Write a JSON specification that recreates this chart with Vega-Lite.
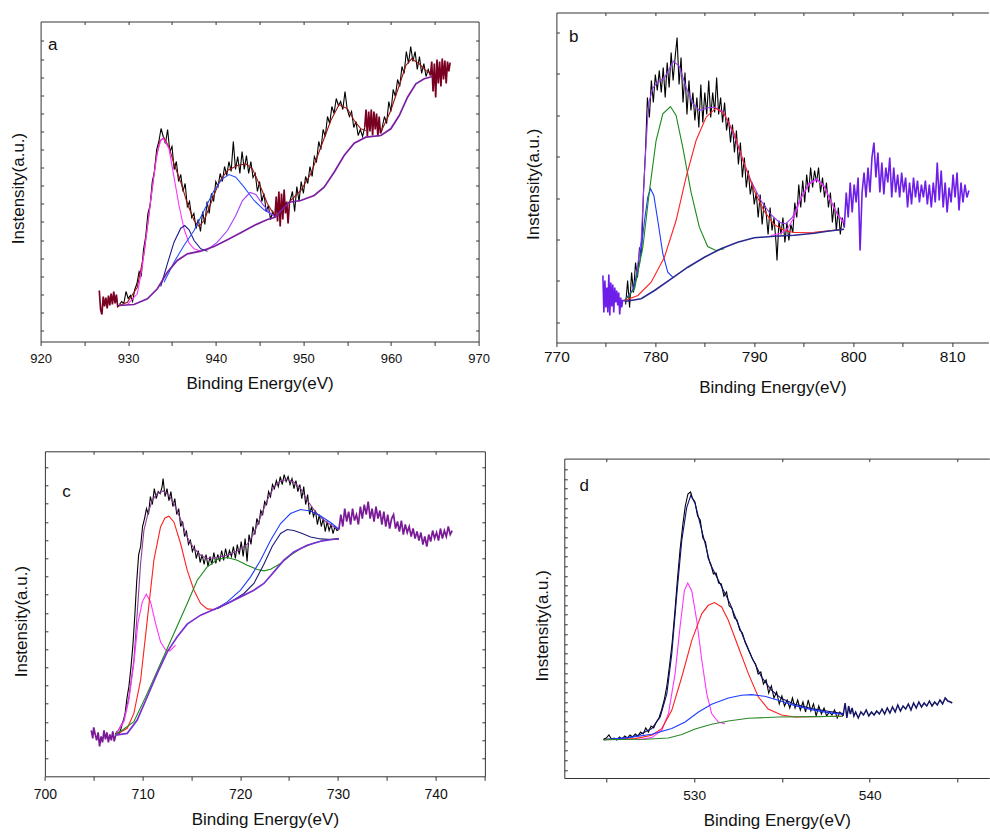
{
"$schema":"https://vega.github.io/schema/vega-lite/v6.json",
"padding":{"left":9.6,"top":11.5,"right":0,"bottom":0},
"config":{"view":{"stroke":null},"font":"Liberation Sans","axis":{"grid":false,"domainColor":"#333333","domainWidth":1,"tickColor":"#333333","tickWidth":1,"labelFont":"Liberation Sans","labelColor":"#111111","labelFlush":false,"labelOverlap":false,"titleFont":"Liberation Sans","titleFontSize":17,"titleFontWeight":"normal","titleColor":"#111111"}},
"datasets":{
"a":[
{"g":"r1","x":929,"y":37},{"g":"r1","x":929.25,"y":40},{"g":"r1","x":929.5,"y":38},{"g":"r1","x":929.75,"y":50},{"g":"r1","x":930,"y":43},{"g":"r1","x":930.25,"y":46},{"g":"r1","x":930.5,"y":40},{"g":"r1","x":930.75,"y":52},{"g":"r1","x":931,"y":58},{"g":"r1","x":931.25,"y":70},{"g":"r1","x":931.5,"y":66},{"g":"r1","x":931.75,"y":92},{"g":"r1","x":932,"y":105},{"g":"r1","x":932.25,"y":128},{"g":"r1","x":932.5,"y":136},{"g":"r1","x":932.75,"y":160},{"g":"r1","x":933,"y":170},{"g":"r1","x":933.25,"y":192},{"g":"r1","x":933.5,"y":200},{"g":"r1","x":933.75,"y":213},{"g":"r1","x":934,"y":205},{"g":"r1","x":934.25,"y":198},{"g":"r1","x":934.5,"y":212},{"g":"r1","x":934.75,"y":190},{"g":"r1","x":935,"y":195},{"g":"r1","x":935.25,"y":172},{"g":"r1","x":935.5,"y":180},{"g":"r1","x":935.75,"y":160},{"g":"r1","x":936,"y":167},{"g":"r1","x":936.25,"y":150},{"g":"r1","x":936.5,"y":158},{"g":"r1","x":936.75,"y":135},{"g":"r1","x":937,"y":140},{"g":"r1","x":937.25,"y":124},{"g":"r1","x":937.5,"y":128},{"g":"r1","x":937.75,"y":113},{"g":"r1","x":938,"y":122},{"g":"r1","x":938.25,"y":110},{"g":"r1","x":938.5,"y":130},{"g":"r1","x":938.75,"y":117},{"g":"r1","x":939,"y":140},{"g":"r1","x":939.25,"y":128},{"g":"r1","x":939.5,"y":148},{"g":"r1","x":939.75,"y":140},{"g":"r1","x":940,"y":160},{"g":"r1","x":940.25,"y":155},{"g":"r1","x":940.5,"y":168},{"g":"r1","x":940.75,"y":160},{"g":"r1","x":941,"y":175},{"g":"r1","x":941.25,"y":166},{"g":"r1","x":941.5,"y":180},{"g":"r1","x":941.75,"y":170},{"g":"r1","x":942,"y":200},{"g":"r1","x":942.25,"y":172},{"g":"r1","x":942.5,"y":185},{"g":"r1","x":942.75,"y":168},{"g":"r1","x":943,"y":190},{"g":"r1","x":943.25,"y":172},{"g":"r1","x":943.5,"y":186},{"g":"r1","x":943.75,"y":168},{"g":"r1","x":944,"y":180},{"g":"r1","x":944.25,"y":164},{"g":"r1","x":944.5,"y":168},{"g":"r1","x":944.75,"y":150},{"g":"r1","x":945,"y":160},{"g":"r1","x":945.25,"y":140},{"g":"r1","x":945.5,"y":148},{"g":"r1","x":945.75,"y":130},{"g":"r1","x":946,"y":136},{"g":"r1","x":946.25,"y":122},{"g":"r1","x":946.5,"y":130},{"g":"r1","x":946.75,"y":125},
{"g":"r2","x":948.4,"y":138},{"g":"r2","x":948.75,"y":150},{"g":"r2","x":949,"y":130},{"g":"r2","x":949.25,"y":155},{"g":"r2","x":949.5,"y":140},{"g":"r2","x":949.75,"y":160},{"g":"r2","x":950,"y":148},{"g":"r2","x":950.25,"y":165},{"g":"r2","x":950.5,"y":158},{"g":"r2","x":950.75,"y":175},{"g":"r2","x":951,"y":165},{"g":"r2","x":951.25,"y":185},{"g":"r2","x":951.5,"y":180},{"g":"r2","x":951.75,"y":200},{"g":"r2","x":952,"y":192},{"g":"r2","x":952.25,"y":212},{"g":"r2","x":952.5,"y":205},{"g":"r2","x":952.75,"y":225},{"g":"r2","x":953,"y":218},{"g":"r2","x":953.25,"y":235},{"g":"r2","x":953.5,"y":228},{"g":"r2","x":953.75,"y":243},{"g":"r2","x":954,"y":236},{"g":"r2","x":954.25,"y":240},{"g":"r2","x":954.5,"y":232},{"g":"r2","x":954.75,"y":250},{"g":"r2","x":955,"y":232},{"g":"r2","x":955.25,"y":225},{"g":"r2","x":955.5,"y":230},{"g":"r2","x":955.75,"y":214},{"g":"r2","x":956,"y":220},{"g":"r2","x":956.25,"y":206},{"g":"r2","x":956.5,"y":212},{"g":"r2","x":956.75,"y":205},{"g":"r2","x":957,"y":214},
{"g":"r3","x":958.95,"y":212},{"g":"r3","x":959.25,"y":225},{"g":"r3","x":959.5,"y":218},{"g":"r3","x":959.75,"y":240},{"g":"r3","x":960,"y":230},{"g":"r3","x":960.25,"y":252},{"g":"r3","x":960.5,"y":245},{"g":"r3","x":960.75,"y":262},{"g":"r3","x":961,"y":255},{"g":"r3","x":961.25,"y":275},{"g":"r3","x":961.5,"y":268},{"g":"r3","x":961.75,"y":290},{"g":"r3","x":962,"y":278},{"g":"r3","x":962.25,"y":295},{"g":"r3","x":962.5,"y":280},{"g":"r3","x":962.75,"y":290},{"g":"r3","x":963,"y":272},{"g":"r3","x":963.25,"y":285},{"g":"r3","x":963.5,"y":268},{"g":"r3","x":963.75,"y":278},{"g":"r3","x":964,"y":265},{"g":"r3","x":964.25,"y":272},{"g":"r3","x":964.5,"y":266},
{"g":"v1","x":928.95,"y":36},{"g":"v1","x":929.9,"y":39.3},{"g":"v1","x":931.04,"y":54.3},{"g":"v1","x":931.8,"y":87.7},{"g":"v1","x":932.57,"y":141},{"g":"v1","x":933.14,"y":181},{"g":"v1","x":933.63,"y":201},{"g":"v1","x":934.09,"y":203.7},{"g":"v1","x":934.66,"y":194.3},{"g":"v1","x":935.23,"y":177.7},{"g":"v1","x":936,"y":159.3},{"g":"v1","x":936.76,"y":137.7},{"g":"v1","x":937.52,"y":121},{"g":"v1","x":938.09,"y":115},{"g":"v1","x":938.66,"y":121},{"g":"v1","x":939.42,"y":137.7},{"g":"v1","x":940.37,"y":159.3},{"g":"v1","x":941.33,"y":171},{"g":"v1","x":942.47,"y":176},{"g":"v1","x":943.42,"y":177.7},{"g":"v1","x":944.18,"y":172.7},{"g":"v1","x":945.13,"y":154.3},{"g":"v1","x":945.9,"y":137.7},{"g":"v1","x":946.77,"y":125},
{"g":"v2","x":948.37,"y":139.3},{"g":"v2","x":949.7,"y":151},{"g":"v2","x":950.85,"y":167.7},{"g":"v2","x":951.99,"y":194.3},{"g":"v2","x":953.13,"y":221},{"g":"v2","x":954.08,"y":237},{"g":"v2","x":955.03,"y":232.7},{"g":"v2","x":955.8,"y":221},{"g":"v2","x":956.56,"y":212.7},{"g":"v2","x":957.13,"y":211},
{"g":"v3","x":958.84,"y":209.3},{"g":"v3","x":959.98,"y":231},{"g":"v3","x":960.94,"y":256},{"g":"v3","x":961.7,"y":276},{"g":"v3","x":962.35,"y":282.7},{"g":"v3","x":963.22,"y":277.7},{"g":"v3","x":963.98,"y":271},{"g":"v3","x":964.74,"y":267},
{"g":"p1","x":929.9,"y":37},{"g":"p1","x":931.04,"y":47.7},{"g":"p1","x":931.6,"y":74.3},{"g":"p1","x":932.19,"y":114.3},{"g":"p1","x":932.76,"y":154.3},{"g":"p1","x":933.33,"y":189.3},{"g":"p1","x":933.71,"y":201},{"g":"p1","x":934.01,"y":203.3},{"g":"p1","x":934.66,"y":192.7},{"g":"p1","x":935.23,"y":164.3},{"g":"p1","x":935.8,"y":136},{"g":"p1","x":936.37,"y":112.7},{"g":"p1","x":936.95,"y":98.3},{"g":"p1","x":937.52,"y":92.7},{"g":"p1","x":938.28,"y":90.3},
{"g":"p2","x":933.71,"y":55},{"g":"p2","x":934.47,"y":77.7},{"g":"p2","x":935.23,"y":99.3},{"g":"p2","x":936,"y":113.3},{"g":"p2","x":936.45,"y":116},{"g":"p2","x":936.95,"y":111.7},{"g":"p2","x":937.52,"y":101},{"g":"p2","x":938.28,"y":92.7},{"g":"p2","x":939.04,"y":90.3},
{"g":"p3","x":934.09,"y":59.3},{"g":"p3","x":935.23,"y":79.3},{"g":"p3","x":936.37,"y":96},{"g":"p3","x":937.52,"y":111},{"g":"p3","x":938.66,"y":131},{"g":"p3","x":939.8,"y":151},{"g":"p3","x":940.75,"y":162.7},{"g":"p3","x":941.52,"y":167},{"g":"p3","x":942.28,"y":164.3},{"g":"p3","x":943.23,"y":154.3},{"g":"p3","x":944.37,"y":141},{"g":"p3","x":945.51,"y":131.7},{"g":"p3","x":946.77,"y":125},
{"g":"p4","x":939.04,"y":91.7},{"g":"p4","x":940.18,"y":99.3},{"g":"p4","x":941.33,"y":111},{"g":"p4","x":942.28,"y":126},{"g":"p4","x":943.04,"y":141},{"g":"p4","x":943.92,"y":149},{"g":"p4","x":944.56,"y":147},{"g":"p4","x":945.32,"y":137.7},{"g":"p4","x":946.09,"y":129.3},{"g":"p4","x":946.77,"y":124.3},
{"g":"e1","x":926.7,"y":51},{"g":"e1","x":926.85,"y":32},{"g":"e1","x":927,"y":27},{"g":"e1","x":927.15,"y":45},{"g":"e1","x":927.3,"y":35},{"g":"e1","x":927.45,"y":44},{"g":"e1","x":927.6,"y":33},{"g":"e1","x":927.75,"y":46},{"g":"e1","x":927.9,"y":36},{"g":"e1","x":928.05,"y":48},{"g":"e1","x":928.2,"y":37},{"g":"e1","x":928.35,"y":50},{"g":"e1","x":928.5,"y":38},{"g":"e1","x":928.65,"y":47},{"g":"e1","x":928.8,"y":35},{"g":"e1","x":928.95,"y":36},
{"g":"e2","x":946.75,"y":125},{"g":"e2","x":946.9,"y":145},{"g":"e2","x":947.05,"y":120},{"g":"e2","x":947.2,"y":150},{"g":"e2","x":947.35,"y":115},{"g":"e2","x":947.5,"y":148},{"g":"e2","x":947.65,"y":122},{"g":"e2","x":947.8,"y":152},{"g":"e2","x":947.95,"y":128},{"g":"e2","x":948.1,"y":140},{"g":"e2","x":948.25,"y":118},{"g":"e2","x":948.4,"y":138},
{"g":"e3","x":957,"y":214},{"g":"e3","x":957.15,"y":232},{"g":"e3","x":957.3,"y":205},{"g":"e3","x":957.45,"y":230},{"g":"e3","x":957.6,"y":210},{"g":"e3","x":957.75,"y":232},{"g":"e3","x":957.9,"y":206},{"g":"e3","x":958.05,"y":230},{"g":"e3","x":958.2,"y":212},{"g":"e3","x":958.35,"y":228},{"g":"e3","x":958.5,"y":205},{"g":"e3","x":958.65,"y":225},{"g":"e3","x":958.8,"y":208},{"g":"e3","x":958.95,"y":212},
{"g":"e4","x":964.5,"y":266},{"g":"e4","x":964.65,"y":280},{"g":"e4","x":964.8,"y":250},{"g":"e4","x":964.95,"y":278},{"g":"e4","x":965.1,"y":244},{"g":"e4","x":965.25,"y":282},{"g":"e4","x":965.4,"y":258},{"g":"e4","x":965.55,"y":280},{"g":"e4","x":965.7,"y":255},{"g":"e4","x":965.85,"y":283},{"g":"e4","x":966,"y":262},{"g":"e4","x":966.15,"y":281},{"g":"e4","x":966.3,"y":258},{"g":"e4","x":966.45,"y":280},{"g":"e4","x":966.6,"y":270},{"g":"e4","x":966.75,"y":279},
{"g":"bl","x":928.95,"y":36},{"g":"bl","x":930.66,"y":37},{"g":"bl","x":932.19,"y":42.7},{"g":"bl","x":933.33,"y":52.7},{"g":"bl","x":934.47,"y":69.3},{"g":"bl","x":935.61,"y":81},{"g":"bl","x":936.76,"y":87.7},{"g":"bl","x":938.28,"y":90.3},{"g":"bl","x":939.8,"y":95},{"g":"bl","x":941.33,"y":101.7},{"g":"bl","x":942.85,"y":108.7},{"g":"bl","x":944.37,"y":116},{"g":"bl","x":945.9,"y":122},{"g":"bl","x":946.77,"y":124.3},{"g":"bl","x":948.37,"y":139.3},{"g":"bl","x":949.7,"y":141},{"g":"bl","x":951.23,"y":146},{"g":"bl","x":952.37,"y":154.3},{"g":"bl","x":953.51,"y":169.3},{"g":"bl","x":954.65,"y":186},{"g":"bl","x":955.8,"y":198.3},{"g":"bl","x":957.13,"y":204.3},{"g":"bl","x":958.84,"y":206},{"g":"bl","x":959.98,"y":212.7},{"g":"bl","x":960.94,"y":226},{"g":"bl","x":961.89,"y":244.3},{"g":"bl","x":962.84,"y":257.7},{"g":"bl","x":963.79,"y":262.7},{"g":"bl","x":964.74,"y":265}
],
"b":[
{"g":"r1","x":777,"y":38},{"g":"r1","x":777.2,"y":62},{"g":"r1","x":777.4,"y":35},{"g":"r1","x":777.6,"y":70},{"g":"r1","x":777.8,"y":50},{"g":"r1","x":778,"y":80},{"g":"r1","x":778.2,"y":65},{"g":"r1","x":778.4,"y":95},{"g":"r1","x":778.6,"y":88},{"g":"r1","x":778.8,"y":150},{"g":"r1","x":779,"y":190},{"g":"r1","x":779.2,"y":245},{"g":"r1","x":779.4,"y":225},{"g":"r1","x":779.6,"y":262},{"g":"r1","x":779.8,"y":240},{"g":"r1","x":780,"y":268},{"g":"r1","x":780.2,"y":252},{"g":"r1","x":780.4,"y":272},{"g":"r1","x":780.6,"y":250},{"g":"r1","x":780.8,"y":275},{"g":"r1","x":781,"y":245},{"g":"r1","x":781.2,"y":280},{"g":"r1","x":781.4,"y":255},{"g":"r1","x":781.6,"y":290},{"g":"r1","x":781.8,"y":262},{"g":"r1","x":782,"y":285},{"g":"r1","x":782.2,"y":305},{"g":"r1","x":782.4,"y":258},{"g":"r1","x":782.6,"y":285},{"g":"r1","x":782.8,"y":240},{"g":"r1","x":783,"y":270},{"g":"r1","x":783.2,"y":228},{"g":"r1","x":783.4,"y":262},{"g":"r1","x":783.6,"y":232},{"g":"r1","x":783.8,"y":250},{"g":"r1","x":784,"y":222},{"g":"r1","x":784.2,"y":245},{"g":"r1","x":784.4,"y":215},{"g":"r1","x":784.6,"y":258},{"g":"r1","x":784.8,"y":220},{"g":"r1","x":785,"y":250},{"g":"r1","x":785.2,"y":228},{"g":"r1","x":785.4,"y":262},{"g":"r1","x":785.6,"y":225},{"g":"r1","x":785.8,"y":250},{"g":"r1","x":786,"y":230},{"g":"r1","x":786.2,"y":265},{"g":"r1","x":786.4,"y":228},{"g":"r1","x":786.6,"y":245},{"g":"r1","x":786.8,"y":220},{"g":"r1","x":787,"y":240},{"g":"r1","x":787.2,"y":212},{"g":"r1","x":787.4,"y":225},{"g":"r1","x":787.6,"y":200},{"g":"r1","x":787.8,"y":218},{"g":"r1","x":788,"y":190},{"g":"r1","x":788.2,"y":212},{"g":"r1","x":788.4,"y":178},{"g":"r1","x":788.6,"y":200},{"g":"r1","x":788.8,"y":165},{"g":"r1","x":789,"y":185},{"g":"r1","x":789.2,"y":155},{"g":"r1","x":789.4,"y":172},{"g":"r1","x":789.6,"y":148},{"g":"r1","x":789.8,"y":160},{"g":"r1","x":790,"y":138},{"g":"r1","x":790.2,"y":150},{"g":"r1","x":790.4,"y":125},{"g":"r1","x":790.6,"y":148},{"g":"r1","x":790.8,"y":118},{"g":"r1","x":791,"y":140},{"g":"r1","x":791.2,"y":130},{"g":"r1","x":791.4,"y":108},{"g":"r1","x":791.6,"y":135},{"g":"r1","x":791.8,"y":112},{"g":"r1","x":792,"y":125},{"g":"r1","x":792.2,"y":100},{"g":"r1","x":792.3,"y":82},{"g":"r1","x":792.5,"y":122},{"g":"r1","x":792.7,"y":108},{"g":"r1","x":792.9,"y":125},{"g":"r1","x":793.1,"y":100},{"g":"r1","x":793.3,"y":120},{"g":"r1","x":793.5,"y":102},{"g":"r1","x":793.7,"y":118},{"g":"r1","x":793.9,"y":110},{"g":"r1","x":794.1,"y":140},{"g":"r1","x":794.3,"y":125},{"g":"r1","x":794.5,"y":158},{"g":"r1","x":794.7,"y":135},{"g":"r1","x":794.9,"y":162},{"g":"r1","x":795.1,"y":140},{"g":"r1","x":795.3,"y":168},{"g":"r1","x":795.5,"y":150},{"g":"r1","x":795.7,"y":175},{"g":"r1","x":795.9,"y":155},{"g":"r1","x":796.1,"y":172},{"g":"r1","x":796.3,"y":160},{"g":"r1","x":796.5,"y":175},{"g":"r1","x":796.7,"y":150},{"g":"r1","x":796.9,"y":165},{"g":"r1","x":797.1,"y":145},{"g":"r1","x":797.3,"y":160},{"g":"r1","x":797.5,"y":135},{"g":"r1","x":797.7,"y":150},{"g":"r1","x":797.9,"y":120},{"g":"r1","x":798.1,"y":140},{"g":"r1","x":798.3,"y":112},{"g":"r1","x":798.5,"y":135},{"g":"r1","x":798.7,"y":108},{"g":"r1","x":798.9,"y":125},{"g":"r1","x":799.1,"y":115},
{"g":"v","x":776.89,"y":42},{"g":"v","x":777.9,"y":55.3},{"g":"v","x":778.57,"y":102},{"g":"v","x":778.97,"y":182},{"g":"v","x":779.31,"y":238.7},{"g":"v","x":779.75,"y":254.7},{"g":"v","x":780.25,"y":260.3},{"g":"v","x":780.92,"y":264.7},{"g":"v","x":781.43,"y":273.7},{"g":"v","x":781.83,"y":281.3},{"g":"v","x":782.44,"y":276},{"g":"v","x":783.11,"y":255.3},{"g":"v","x":783.78,"y":239.3},{"g":"v","x":784.45,"y":232},{"g":"v","x":785.29,"y":234.7},{"g":"v","x":785.97,"y":235.3},{"g":"v","x":786.81,"y":231.3},{"g":"v","x":787.48,"y":218},{"g":"v","x":788.15,"y":202},{"g":"v","x":788.82,"y":182.7},{"g":"v","x":789.66,"y":162},{"g":"v","x":790.67,"y":142},{"g":"v","x":791.68,"y":128},{"g":"v","x":792.52,"y":120.3},{"g":"v","x":793.19,"y":118.7},{"g":"v","x":793.87,"y":125.3},{"g":"v","x":794.71,"y":144.7},{"g":"v","x":795.55,"y":159.3},{"g":"v","x":796.32,"y":163.7},{"g":"v","x":797.06,"y":156.7},{"g":"v","x":797.73,"y":142},{"g":"v","x":798.4,"y":128.7},{"g":"v","x":799.08,"y":120.3},
{"g":"p1","x":776.89,"y":42},{"g":"p1","x":777.73,"y":52},{"g":"p1","x":778.4,"y":78.7},{"g":"p1","x":778.91,"y":122},{"g":"p1","x":779.24,"y":145.3},{"g":"p1","x":779.51,"y":153.7},{"g":"p1","x":779.85,"y":147},{"g":"p1","x":780.25,"y":122},{"g":"p1","x":780.76,"y":88.7},{"g":"p1","x":781.26,"y":70.3},{"g":"p1","x":781.76,"y":65.3},
{"g":"p2","x":776.89,"y":42},{"g":"p2","x":777.9,"y":53.7},{"g":"p2","x":778.74,"y":95.3},{"g":"p2","x":779.41,"y":152},{"g":"p2","x":780.08,"y":202},{"g":"p2","x":780.76,"y":228.7},{"g":"p2","x":781.53,"y":236},{"g":"p2","x":782.1,"y":227},{"g":"p2","x":782.77,"y":195.3},{"g":"p2","x":783.61,"y":150.3},{"g":"p2","x":784.45,"y":115.3},{"g":"p2","x":785.29,"y":96},{"g":"p2","x":786.13,"y":92},{"g":"p2","x":786.97,"y":93.7},
{"g":"p3","x":776.89,"y":42},{"g":"p3","x":778.24,"y":47},{"g":"p3","x":779.58,"y":60.3},{"g":"p3","x":780.92,"y":85.3},{"g":"p3","x":782.1,"y":122},{"g":"p3","x":783.11,"y":165.3},{"g":"p3","x":784.12,"y":202},{"g":"p3","x":785.13,"y":225.3},{"g":"p3","x":786.13,"y":234.3},{"g":"p3","x":786.97,"y":228.7},{"g":"p3","x":787.98,"y":208.7},{"g":"p3","x":788.99,"y":178.7},{"g":"p3","x":790,"y":152},{"g":"p3","x":791.01,"y":131.3},{"g":"p3","x":792.02,"y":118},{"g":"p3","x":793.03,"y":112},{"g":"p3","x":794.03,"y":110},{"g":"p3","x":796.05,"y":110.3},{"g":"p3","x":799.08,"y":113.3},
{"g":"p4","x":791.68,"y":107},{"g":"p4","x":792.69,"y":109.3},{"g":"p4","x":793.36,"y":113.7},{"g":"p4","x":794.03,"y":125.3},{"g":"p4","x":794.71,"y":143.7},{"g":"p4","x":795.55,"y":158.3},{"g":"p4","x":796.32,"y":163},{"g":"p4","x":797.06,"y":156},{"g":"p4","x":797.73,"y":141.3},{"g":"p4","x":798.4,"y":128},{"g":"p4","x":799.08,"y":119.3},
{"g":"e1","x":774.7,"y":67},{"g":"e1","x":774.8,"y":30},{"g":"e1","x":774.9,"y":62},{"g":"e1","x":775,"y":35},{"g":"e1","x":775.1,"y":55},{"g":"e1","x":775.2,"y":30},{"g":"e1","x":775.3,"y":68},{"g":"e1","x":775.4,"y":27},{"g":"e1","x":775.5,"y":60},{"g":"e1","x":775.6,"y":36},{"g":"e1","x":775.7,"y":58},{"g":"e1","x":775.8,"y":30},{"g":"e1","x":775.9,"y":55},{"g":"e1","x":776,"y":40},{"g":"e1","x":776.1,"y":52},{"g":"e1","x":776.2,"y":37},{"g":"e1","x":776.3,"y":50},{"g":"e1","x":776.4,"y":28},{"g":"e1","x":776.5,"y":45},{"g":"e1","x":776.6,"y":35},{"g":"e1","x":776.7,"y":42},{"g":"e1","x":776.89,"y":42},
{"g":"e2","x":799.1,"y":115},{"g":"e2","x":799.3,"y":150},{"g":"e2","x":799.5,"y":125},{"g":"e2","x":799.7,"y":160},{"g":"e2","x":799.9,"y":130},{"g":"e2","x":800.1,"y":158},{"g":"e2","x":800.3,"y":140},{"g":"e2","x":800.5,"y":165},{"g":"e2","x":800.7,"y":92},{"g":"e2","x":800.9,"y":150},{"g":"e2","x":801.1,"y":170},{"g":"e2","x":801.3,"y":145},{"g":"e2","x":801.5,"y":175},{"g":"e2","x":801.7,"y":150},{"g":"e2","x":801.9,"y":185},{"g":"e2","x":802.1,"y":200},{"g":"e2","x":802.3,"y":165},{"g":"e2","x":802.5,"y":190},{"g":"e2","x":802.7,"y":150},{"g":"e2","x":802.9,"y":180},{"g":"e2","x":803.1,"y":148},{"g":"e2","x":803.3,"y":175},{"g":"e2","x":803.5,"y":160},{"g":"e2","x":803.7,"y":185},{"g":"e2","x":803.9,"y":145},{"g":"e2","x":804.1,"y":175},{"g":"e2","x":804.3,"y":150},{"g":"e2","x":804.5,"y":168},{"g":"e2","x":804.7,"y":145},{"g":"e2","x":804.9,"y":170},{"g":"e2","x":805.1,"y":150},{"g":"e2","x":805.3,"y":165},{"g":"e2","x":805.5,"y":135},{"g":"e2","x":805.7,"y":160},{"g":"e2","x":805.9,"y":138},{"g":"e2","x":806.1,"y":165},{"g":"e2","x":806.3,"y":145},{"g":"e2","x":806.5,"y":162},{"g":"e2","x":806.7,"y":140},{"g":"e2","x":806.9,"y":158},{"g":"e2","x":807.1,"y":145},{"g":"e2","x":807.3,"y":162},{"g":"e2","x":807.5,"y":138},{"g":"e2","x":807.7,"y":158},{"g":"e2","x":807.9,"y":135},{"g":"e2","x":808.1,"y":160},{"g":"e2","x":808.3,"y":140},{"g":"e2","x":808.5,"y":180},{"g":"e2","x":808.7,"y":142},{"g":"e2","x":808.9,"y":172},{"g":"e2","x":809.1,"y":135},{"g":"e2","x":809.3,"y":160},{"g":"e2","x":809.5,"y":130},{"g":"e2","x":809.7,"y":155},{"g":"e2","x":809.9,"y":140},{"g":"e2","x":810.1,"y":168},{"g":"e2","x":810.3,"y":145},{"g":"e2","x":810.5,"y":170},{"g":"e2","x":810.7,"y":132},{"g":"e2","x":810.9,"y":160},{"g":"e2","x":811.1,"y":140},{"g":"e2","x":811.3,"y":158},{"g":"e2","x":811.5,"y":145},{"g":"e2","x":811.7,"y":152},
{"g":"bl","x":776.89,"y":41},{"g":"bl","x":778.57,"y":43.7},{"g":"bl","x":779.92,"y":52},{"g":"bl","x":781.6,"y":63.7},{"g":"bl","x":783.28,"y":75.3},{"g":"bl","x":784.96,"y":85.3},{"g":"bl","x":786.64,"y":93.7},{"g":"bl","x":788.32,"y":100.3},{"g":"bl","x":790,"y":104.7},{"g":"bl","x":792.02,"y":106.3},{"g":"bl","x":794.03,"y":107.3},{"g":"bl","x":796.05,"y":109.3},{"g":"bl","x":797.39,"y":111.3},{"g":"bl","x":799.08,"y":113.3}
],
"c":[
{"g":"r1","x":707.2,"y":42},{"g":"r1","x":707.4,"y":45},{"g":"r1","x":707.6,"y":43},{"g":"r1","x":707.8,"y":48},{"g":"r1","x":708,"y":55},{"g":"r1","x":708.2,"y":62},{"g":"r1","x":708.4,"y":78},{"g":"r1","x":708.6,"y":90},{"g":"r1","x":708.8,"y":108},{"g":"r1","x":709,"y":130},{"g":"r1","x":709.2,"y":160},{"g":"r1","x":709.4,"y":195},{"g":"r1","x":709.6,"y":222},{"g":"r1","x":709.8,"y":230},{"g":"r1","x":710,"y":250},{"g":"r1","x":710.2,"y":258},{"g":"r1","x":710.4,"y":268},{"g":"r1","x":710.6,"y":262},{"g":"r1","x":710.8,"y":280},{"g":"r1","x":711,"y":272},{"g":"r1","x":711.2,"y":288},{"g":"r1","x":711.4,"y":278},{"g":"r1","x":711.6,"y":285},{"g":"r1","x":711.8,"y":283},{"g":"r1","x":712,"y":290},{"g":"r1","x":712.1,"y":298},{"g":"r1","x":712.3,"y":280},{"g":"r1","x":712.5,"y":288},{"g":"r1","x":712.7,"y":276},{"g":"r1","x":712.9,"y":285},{"g":"r1","x":713.1,"y":270},{"g":"r1","x":713.3,"y":278},{"g":"r1","x":713.5,"y":262},{"g":"r1","x":713.7,"y":268},{"g":"r1","x":713.9,"y":250},{"g":"r1","x":714.1,"y":255},{"g":"r1","x":714.3,"y":240},{"g":"r1","x":714.5,"y":245},{"g":"r1","x":714.7,"y":232},{"g":"r1","x":714.9,"y":236},{"g":"r1","x":715.1,"y":225},{"g":"r1","x":715.3,"y":230},{"g":"r1","x":715.5,"y":218},{"g":"r1","x":715.7,"y":226},{"g":"r1","x":715.9,"y":214},{"g":"r1","x":716.1,"y":222},{"g":"r1","x":716.3,"y":212},{"g":"r1","x":716.5,"y":222},{"g":"r1","x":716.7,"y":210},{"g":"r1","x":716.9,"y":220},{"g":"r1","x":717.1,"y":212},{"g":"r1","x":717.3,"y":224},{"g":"r1","x":717.5,"y":213},{"g":"r1","x":717.7,"y":222},{"g":"r1","x":717.9,"y":215},{"g":"r1","x":718.1,"y":226},{"g":"r1","x":718.3,"y":216},{"g":"r1","x":718.5,"y":228},{"g":"r1","x":718.7,"y":218},{"g":"r1","x":718.9,"y":226},{"g":"r1","x":719.1,"y":220},{"g":"r1","x":719.3,"y":230},{"g":"r1","x":719.5,"y":218},{"g":"r1","x":719.7,"y":232},{"g":"r1","x":719.9,"y":222},{"g":"r1","x":720.1,"y":235},{"g":"r1","x":720.3,"y":220},{"g":"r1","x":720.5,"y":238},{"g":"r1","x":720.7,"y":215},{"g":"r1","x":720.9,"y":242},{"g":"r1","x":721.1,"y":232},{"g":"r1","x":721.3,"y":250},{"g":"r1","x":721.5,"y":242},{"g":"r1","x":721.7,"y":258},{"g":"r1","x":721.9,"y":252},{"g":"r1","x":722.1,"y":266},{"g":"r1","x":722.3,"y":262},{"g":"r1","x":722.5,"y":275},{"g":"r1","x":722.7,"y":272},{"g":"r1","x":722.9,"y":285},{"g":"r1","x":723.1,"y":280},{"g":"r1","x":723.3,"y":292},{"g":"r1","x":723.5,"y":288},{"g":"r1","x":723.7,"y":296},{"g":"r1","x":723.9,"y":290},{"g":"r1","x":724.1,"y":300},{"g":"r1","x":724.3,"y":292},{"g":"r1","x":724.5,"y":302},{"g":"r1","x":724.7,"y":295},{"g":"r1","x":724.9,"y":300},{"g":"r1","x":725.1,"y":292},{"g":"r1","x":725.3,"y":298},{"g":"r1","x":725.5,"y":288},{"g":"r1","x":725.7,"y":296},{"g":"r1","x":725.9,"y":285},{"g":"r1","x":726.1,"y":292},{"g":"r1","x":726.3,"y":278},{"g":"r1","x":726.5,"y":290},{"g":"r1","x":726.7,"y":272},{"g":"r1","x":726.9,"y":282},{"g":"r1","x":727.1,"y":262},{"g":"r1","x":727.3,"y":270},{"g":"r1","x":727.5,"y":260},{"g":"r1","x":727.7,"y":266},{"g":"r1","x":727.9,"y":252},{"g":"r1","x":728.1,"y":262},{"g":"r1","x":728.3,"y":250},{"g":"r1","x":728.5,"y":258},{"g":"r1","x":728.7,"y":245},{"g":"r1","x":728.9,"y":255},{"g":"r1","x":729.1,"y":246},{"g":"r1","x":729.3,"y":252},{"g":"r1","x":729.5,"y":243},{"g":"r1","x":729.7,"y":250},{"g":"r1","x":729.9,"y":246},{"g":"r1","x":730.1,"y":247},
{"g":"v","x":707.24,"y":41.3},{"g":"v","x":708.09,"y":56.3},{"g":"v","x":708.6,"y":79.6},{"g":"v","x":709.11,"y":116.3},{"g":"v","x":709.45,"y":163},{"g":"v","x":709.8,"y":213},{"g":"v","x":710.14,"y":246.3},{"g":"v","x":710.55,"y":263},{"g":"v","x":710.99,"y":276.3},{"g":"v","x":711.5,"y":283},{"g":"v","x":712.12,"y":285.6},{"g":"v","x":712.7,"y":281.3},{"g":"v","x":713.38,"y":269.6},{"g":"v","x":714.06,"y":253},{"g":"v","x":714.57,"y":239.6},{"g":"v","x":715.26,"y":228},{"g":"v","x":715.94,"y":221.3},{"g":"v","x":716.62,"y":218},{"g":"v","x":717.65,"y":219},{"g":"v","x":718.67,"y":221.3},{"g":"v","x":719.69,"y":225.6},{"g":"v","x":720.72,"y":232.3},{"g":"v","x":721.4,"y":243},{"g":"v","x":722.08,"y":259.6},{"g":"v","x":722.76,"y":276.3},{"g":"v","x":723.45,"y":289.6},{"g":"v","x":724.13,"y":295.6},{"g":"v","x":724.81,"y":297},{"g":"v","x":725.49,"y":294.6},{"g":"v","x":726.18,"y":288},{"g":"v","x":726.86,"y":276.3},{"g":"v","x":727.71,"y":264.6},{"g":"v","x":728.57,"y":256.3},{"g":"v","x":729.59,"y":249.6},{"g":"v","x":730.1,"y":247},
{"g":"p1","x":707.24,"y":41.3},{"g":"p1","x":708.09,"y":54.6},{"g":"p1","x":708.6,"y":76.3},{"g":"p1","x":709.11,"y":113},{"g":"p1","x":709.52,"y":153},{"g":"p1","x":709.97,"y":174.6},{"g":"p1","x":710.38,"y":182.3},{"g":"p1","x":710.82,"y":174.6},{"g":"p1","x":711.33,"y":153},{"g":"p1","x":711.84,"y":134.6},{"g":"p1","x":712.35,"y":126.3},{"g":"p1","x":712.8,"y":125.6},{"g":"p1","x":713.38,"y":131.3},
{"g":"p2","x":707.24,"y":41.3},{"g":"p2","x":708.43,"y":48},{"g":"p2","x":709.11,"y":63},{"g":"p2","x":709.8,"y":96.3},{"g":"p2","x":710.48,"y":156.3},{"g":"p2","x":711.16,"y":216.3},{"g":"p2","x":711.84,"y":249.6},{"g":"p2","x":712.29,"y":258.6},{"g":"p2","x":712.7,"y":260.3},{"g":"p2","x":713.21,"y":254.6},{"g":"p2","x":713.89,"y":233},{"g":"p2","x":714.57,"y":206.3},{"g":"p2","x":715.26,"y":186.3},{"g":"p2","x":715.94,"y":173},{"g":"p2","x":716.62,"y":167.6},{"g":"p2","x":717.3,"y":167},{"g":"p2","x":717.99,"y":169.6},
{"g":"p3","x":707.24,"y":41.3},{"g":"p3","x":709.11,"y":54.6},{"g":"p3","x":710.48,"y":83},{"g":"p3","x":711.84,"y":113},{"g":"p3","x":713.21,"y":143},{"g":"p3","x":714.57,"y":173},{"g":"p3","x":715.6,"y":196.3},{"g":"p3","x":716.62,"y":209.6},{"g":"p3","x":717.65,"y":217},{"g":"p3","x":718.67,"y":219},{"g":"p3","x":719.69,"y":216.3},{"g":"p3","x":720.72,"y":211.3},{"g":"p3","x":721.74,"y":207},{"g":"p3","x":722.42,"y":205.6},{"g":"p3","x":723.11,"y":207.3},{"g":"p3","x":724.13,"y":213},{"g":"p3","x":725.15,"y":221.3},{"g":"p3","x":726.18,"y":228},{"g":"p3","x":727.54,"y":233.6},{"g":"p3","x":728.91,"y":237},{"g":"p3","x":730.1,"y":238},
{"g":"p4","x":717.3,"y":166.3},{"g":"p4","x":718.67,"y":174.6},{"g":"p4","x":720.03,"y":186.3},{"g":"p4","x":721.06,"y":199.6},{"g":"p4","x":722.08,"y":216.3},{"g":"p4","x":723.11,"y":236.3},{"g":"p4","x":724.13,"y":253},{"g":"p4","x":725.15,"y":263},{"g":"p4","x":726.18,"y":267},{"g":"p4","x":727.2,"y":265.6},{"g":"p4","x":728.23,"y":260.6},{"g":"p4","x":729.25,"y":254},{"g":"p4","x":730.1,"y":247.3},
{"g":"p5","x":717.65,"y":167.6},{"g":"p5","x":719.01,"y":174.6},{"g":"p5","x":720.38,"y":183},{"g":"p5","x":721.4,"y":193},{"g":"p5","x":722.42,"y":212.3},{"g":"p5","x":723.28,"y":230.3},{"g":"p5","x":724.13,"y":243},{"g":"p5","x":724.81,"y":247},{"g":"p5","x":725.49,"y":246},{"g":"p5","x":726.35,"y":243},{"g":"p5","x":727.2,"y":239.6},{"g":"p5","x":728.23,"y":237.6},{"g":"p5","x":729.25,"y":237},{"g":"p5","x":730.1,"y":237.3},
{"g":"e1","x":704.75,"y":46},{"g":"e1","x":704.9,"y":38},{"g":"e1","x":705,"y":49},{"g":"e1","x":705.15,"y":42},{"g":"e1","x":705.3,"y":36},{"g":"e1","x":705.45,"y":44},{"g":"e1","x":705.6,"y":30},{"g":"e1","x":705.75,"y":40},{"g":"e1","x":705.9,"y":34},{"g":"e1","x":706.05,"y":46},{"g":"e1","x":706.2,"y":37},{"g":"e1","x":706.35,"y":44},{"g":"e1","x":706.5,"y":34},{"g":"e1","x":706.65,"y":42},{"g":"e1","x":706.8,"y":36},{"g":"e1","x":706.95,"y":45},{"g":"e1","x":707.1,"y":35},{"g":"e1","x":707.24,"y":41},
{"g":"e2","x":730.1,"y":247},{"g":"e2","x":730.3,"y":262},{"g":"e2","x":730.5,"y":250},{"g":"e2","x":730.7,"y":268},{"g":"e2","x":730.9,"y":255},{"g":"e2","x":731.1,"y":265},{"g":"e2","x":731.3,"y":252},{"g":"e2","x":731.5,"y":268},{"g":"e2","x":731.7,"y":256},{"g":"e2","x":731.9,"y":262},{"g":"e2","x":732.1,"y":252},{"g":"e2","x":732.3,"y":270},{"g":"e2","x":732.5,"y":258},{"g":"e2","x":732.7,"y":272},{"g":"e2","x":732.9,"y":262},{"g":"e2","x":733.1,"y":275},{"g":"e2","x":733.3,"y":258},{"g":"e2","x":733.5,"y":268},{"g":"e2","x":733.7,"y":255},{"g":"e2","x":733.9,"y":270},{"g":"e2","x":734.1,"y":258},{"g":"e2","x":734.3,"y":266},{"g":"e2","x":734.5,"y":252},{"g":"e2","x":734.7,"y":265},{"g":"e2","x":734.9,"y":250},{"g":"e2","x":735.1,"y":262},{"g":"e2","x":735.3,"y":248},{"g":"e2","x":735.5,"y":258},{"g":"e2","x":735.7,"y":262},{"g":"e2","x":735.9,"y":248},{"g":"e2","x":736.1,"y":255},{"g":"e2","x":736.3,"y":245},{"g":"e2","x":736.5,"y":256},{"g":"e2","x":736.7,"y":242},{"g":"e2","x":736.9,"y":252},{"g":"e2","x":737.1,"y":244},{"g":"e2","x":737.3,"y":250},{"g":"e2","x":737.5,"y":240},{"g":"e2","x":737.7,"y":248},{"g":"e2","x":737.9,"y":238},{"g":"e2","x":738.1,"y":245},{"g":"e2","x":738.3,"y":236},{"g":"e2","x":738.5,"y":244},{"g":"e2","x":738.7,"y":232},{"g":"e2","x":738.9,"y":240},{"g":"e2","x":739.1,"y":230},{"g":"e2","x":739.3,"y":242},{"g":"e2","x":739.5,"y":235},{"g":"e2","x":739.7,"y":246},{"g":"e2","x":739.9,"y":238},{"g":"e2","x":740.1,"y":244},{"g":"e2","x":740.3,"y":236},{"g":"e2","x":740.5,"y":248},{"g":"e2","x":740.7,"y":238},{"g":"e2","x":740.9,"y":246},{"g":"e2","x":741.1,"y":240},{"g":"e2","x":741.3,"y":250},{"g":"e2","x":741.5,"y":242},{"g":"e2","x":741.7,"y":246},
{"g":"bl","x":707.24,"y":41.3},{"g":"bl","x":708.43,"y":43},{"g":"bl","x":709.45,"y":56.3},{"g":"bl","x":710.48,"y":79.6},{"g":"bl","x":711.5,"y":103},{"g":"bl","x":712.53,"y":124.6},{"g":"bl","x":713.55,"y":139.6},{"g":"bl","x":714.57,"y":152.3},{"g":"bl","x":715.94,"y":161.3},{"g":"bl","x":717.3,"y":167},{"g":"bl","x":718.67,"y":173},{"g":"bl","x":720.03,"y":179.6},{"g":"bl","x":721.4,"y":186.3},{"g":"bl","x":722.42,"y":193},{"g":"bl","x":723.45,"y":204.6},{"g":"bl","x":724.47,"y":216.3},{"g":"bl","x":725.49,"y":224.6},{"g":"bl","x":726.86,"y":231.3},{"g":"bl","x":728.23,"y":235.3},{"g":"bl","x":730.1,"y":238}
],
"d":[
{"g":"r1","x":524.85,"y":39},{"g":"r1","x":525,"y":40},{"g":"r1","x":525.15,"y":43},{"g":"r1","x":525.3,"y":39},{"g":"r1","x":525.45,"y":40},{"g":"r1","x":525.6,"y":38},{"g":"r1","x":525.75,"y":41},{"g":"r1","x":525.9,"y":39},{"g":"r1","x":526.05,"y":42},{"g":"r1","x":526.2,"y":40},{"g":"r1","x":526.35,"y":43},{"g":"r1","x":526.5,"y":41},{"g":"r1","x":526.65,"y":44},{"g":"r1","x":526.8,"y":42},{"g":"r1","x":526.95,"y":46},{"g":"r1","x":527.1,"y":44},{"g":"r1","x":527.25,"y":50},{"g":"r1","x":527.4,"y":46},{"g":"r1","x":527.55,"y":52},{"g":"r1","x":527.7,"y":50},{"g":"r1","x":527.85,"y":56},{"g":"r1","x":528,"y":60},{"g":"r1","x":528.15,"y":68},{"g":"r1","x":528.3,"y":78},{"g":"r1","x":528.45,"y":92},{"g":"r1","x":528.6,"y":112},{"g":"r1","x":528.75,"y":135},{"g":"r1","x":528.9,"y":165},{"g":"r1","x":529.05,"y":198},{"g":"r1","x":529.2,"y":228},{"g":"r1","x":529.35,"y":252},{"g":"r1","x":529.5,"y":272},{"g":"r1","x":529.65,"y":284},{"g":"r1","x":529.8,"y":286},{"g":"r1","x":529.9,"y":280},{"g":"r1","x":530.05,"y":276},{"g":"r1","x":530.2,"y":262},{"g":"r1","x":530.35,"y":258},{"g":"r1","x":530.5,"y":240},{"g":"r1","x":530.65,"y":236},{"g":"r1","x":530.8,"y":220},{"g":"r1","x":530.95,"y":214},{"g":"r1","x":531.1,"y":204},{"g":"r1","x":531.25,"y":205},{"g":"r1","x":531.4,"y":195},{"g":"r1","x":531.55,"y":194},{"g":"r1","x":531.7,"y":182},{"g":"r1","x":531.85,"y":186},{"g":"r1","x":532,"y":172},{"g":"r1","x":532.15,"y":170},{"g":"r1","x":532.3,"y":160},{"g":"r1","x":532.45,"y":158},{"g":"r1","x":532.6,"y":148},{"g":"r1","x":532.75,"y":145},{"g":"r1","x":532.9,"y":136},{"g":"r1","x":533.05,"y":130},{"g":"r1","x":533.2,"y":124},{"g":"r1","x":533.35,"y":118},{"g":"r1","x":533.5,"y":114},{"g":"r1","x":533.65,"y":104},{"g":"r1","x":533.8,"y":106},{"g":"r1","x":533.95,"y":94},{"g":"r1","x":534.1,"y":98},{"g":"r1","x":534.25,"y":85},{"g":"r1","x":534.4,"y":92},{"g":"r1","x":534.55,"y":80},{"g":"r1","x":534.7,"y":86},{"g":"r1","x":534.85,"y":74},{"g":"r1","x":535,"y":82},{"g":"r1","x":535.15,"y":72},{"g":"r1","x":535.3,"y":78},{"g":"r1","x":535.45,"y":70},{"g":"r1","x":535.6,"y":80},{"g":"r1","x":535.75,"y":70},{"g":"r1","x":535.9,"y":78},{"g":"r1","x":536.05,"y":68},{"g":"r1","x":536.2,"y":76},{"g":"r1","x":536.35,"y":66},{"g":"r1","x":536.5,"y":78},{"g":"r1","x":536.65,"y":67},{"g":"r1","x":536.8,"y":74},{"g":"r1","x":536.95,"y":62},{"g":"r1","x":537.1,"y":72},{"g":"r1","x":537.25,"y":64},{"g":"r1","x":537.4,"y":70},{"g":"r1","x":537.55,"y":62},{"g":"r1","x":537.7,"y":66},{"g":"r1","x":537.85,"y":63},{"g":"r1","x":538,"y":68},{"g":"r1","x":538.15,"y":60},{"g":"r1","x":538.3,"y":66},{"g":"r1","x":538.48,"y":62},
{"g":"v","x":524.85,"y":38.4},{"g":"v","x":525.89,"y":39.4},{"g":"v","x":526.84,"y":42.7},{"g":"v","x":527.59,"y":49.4},{"g":"v","x":528.07,"y":61},{"g":"v","x":528.45,"y":84.4},{"g":"v","x":528.73,"y":124.4},{"g":"v","x":529.02,"y":184.4},{"g":"v","x":529.3,"y":237.7},{"g":"v","x":529.58,"y":270.4},{"g":"v","x":529.81,"y":282.7},{"g":"v","x":530.06,"y":274.4},{"g":"v","x":530.34,"y":254.4},{"g":"v","x":530.63,"y":234.4},{"g":"v","x":530.91,"y":214.4},{"g":"v","x":531.29,"y":201},{"g":"v","x":531.67,"y":187.7},{"g":"v","x":532.05,"y":174.4},{"g":"v","x":532.42,"y":157.7},{"g":"v","x":532.8,"y":141},{"g":"v","x":533.28,"y":121},{"g":"v","x":533.84,"y":101},{"g":"v","x":534.41,"y":87.7},{"g":"v","x":534.98,"y":79.4},{"g":"v","x":535.74,"y":73.7},{"g":"v","x":536.69,"y":69.4},{"g":"v","x":537.63,"y":66.7},{"g":"v","x":538.48,"y":64.4},
{"g":"p1","x":526.84,"y":38.4},{"g":"p1","x":527.59,"y":40.4},{"g":"p1","x":528.16,"y":47.7},{"g":"p1","x":528.54,"y":64.4},{"g":"p1","x":528.92,"y":104.4},{"g":"p1","x":529.2,"y":151},{"g":"p1","x":529.45,"y":187.7},{"g":"p1","x":529.64,"y":195},{"g":"p1","x":529.87,"y":187},{"g":"p1","x":530.15,"y":157.7},{"g":"p1","x":530.44,"y":117.7},{"g":"p1","x":530.72,"y":84.4},{"g":"p1","x":531,"y":64.4},{"g":"p1","x":531.38,"y":56},{"g":"p1","x":531.76,"y":54.4},
{"g":"p2","x":524.85,"y":38.4},{"g":"p2","x":526.65,"y":39.4},{"g":"p2","x":527.59,"y":42.7},{"g":"p2","x":528.16,"y":49.4},{"g":"p2","x":528.73,"y":67.7},{"g":"p2","x":529.3,"y":101},{"g":"p2","x":529.87,"y":137.7},{"g":"p2","x":530.44,"y":164.4},{"g":"p2","x":530.81,"y":172.7},{"g":"p2","x":531.16,"y":175.4},{"g":"p2","x":531.57,"y":171},{"g":"p2","x":531.95,"y":157.7},{"g":"p2","x":532.52,"y":131},{"g":"p2","x":533.09,"y":104.4},{"g":"p2","x":533.66,"y":81},{"g":"p2","x":534.22,"y":69},{"g":"p2","x":534.98,"y":63},{"g":"p2","x":535.74,"y":61},{"g":"p2","x":538.48,"y":61.7},
{"g":"p3","x":524.85,"y":38.4},{"g":"p3","x":526.27,"y":40.4},{"g":"p3","x":527.59,"y":43.7},{"g":"p3","x":528.73,"y":49.4},{"g":"p3","x":529.49,"y":56},{"g":"p3","x":530.25,"y":66},{"g":"p3","x":531,"y":73.7},{"g":"p3","x":531.95,"y":80},{"g":"p3","x":532.71,"y":82.7},{"g":"p3","x":533.28,"y":83.4},{"g":"p3","x":534.03,"y":81.7},{"g":"p3","x":534.79,"y":77.7},{"g":"p3","x":535.74,"y":72.4},{"g":"p3","x":536.69,"y":68.4},{"g":"p3","x":537.63,"y":65.4},{"g":"p3","x":538.48,"y":63.7},
{"g":"p4","x":524.85,"y":38.4},{"g":"p4","x":527.22,"y":38.7},{"g":"p4","x":528.54,"y":40},{"g":"p4","x":529.3,"y":43.4},{"g":"p4","x":530.06,"y":49},{"g":"p4","x":531,"y":53.7},{"g":"p4","x":531.95,"y":57},{"g":"p4","x":533.09,"y":59.7},{"g":"p4","x":534.79,"y":61},{"g":"p4","x":536.69,"y":61.4},{"g":"p4","x":538.48,"y":61.7},
{"g":"e1","x":538.48,"y":62},{"g":"e1","x":538.6,"y":75},{"g":"e1","x":538.7,"y":60},{"g":"e1","x":538.8,"y":72},{"g":"e1","x":538.9,"y":64},{"g":"e1","x":539,"y":70},{"g":"e1","x":539.1,"y":62},{"g":"e1","x":539.2,"y":66},{"g":"e1","x":539.35,"y":60},{"g":"e1","x":539.5,"y":66},{"g":"e1","x":539.65,"y":63},{"g":"e1","x":539.8,"y":68},{"g":"e1","x":539.95,"y":62},{"g":"e1","x":540.1,"y":66},{"g":"e1","x":540.25,"y":63},{"g":"e1","x":540.4,"y":67},{"g":"e1","x":540.55,"y":64},{"g":"e1","x":540.7,"y":69},{"g":"e1","x":540.85,"y":64},{"g":"e1","x":541,"y":70},{"g":"e1","x":541.15,"y":65},{"g":"e1","x":541.3,"y":71},{"g":"e1","x":541.45,"y":66},{"g":"e1","x":541.6,"y":73},{"g":"e1","x":541.75,"y":67},{"g":"e1","x":541.9,"y":72},{"g":"e1","x":542.05,"y":69},{"g":"e1","x":542.2,"y":74},{"g":"e1","x":542.35,"y":68},{"g":"e1","x":542.5,"y":75},{"g":"e1","x":542.65,"y":70},{"g":"e1","x":542.8,"y":76},{"g":"e1","x":542.95,"y":71},{"g":"e1","x":543.1,"y":75},{"g":"e1","x":543.25,"y":72},{"g":"e1","x":543.4,"y":77},{"g":"e1","x":543.55,"y":72},{"g":"e1","x":543.7,"y":76},{"g":"e1","x":543.85,"y":73},{"g":"e1","x":544,"y":78},{"g":"e1","x":544.15,"y":74},{"g":"e1","x":544.3,"y":80},{"g":"e1","x":544.45,"y":77},{"g":"e1","x":544.6,"y":76},{"g":"e1","x":544.7,"y":75}
]
},
"resolve":{"scale":{"color":"independent"}},
"spacing":54.8,
"vconcat":[
{"spacing":34.8,"resolve":{"scale":{"color":"independent"}},"hconcat":[
{"width":438,"height":329,"data":{"name":"a"},
"resolve":{"axis":{"x":"independent","y":"independent"}},
"layer":[
{"transform":[{"filter":"substring(datum.g,0,1) != 'e' && datum.g != 'bl'"}],"mark":{"type":"line","strokeWidth":1.1},
"encoding":{
"x":{"field":"x","type":"quantitative","scale":{"domain":[920,970],"nice":false,"zero":false},"axis":{"values":[920,925,930,935,940,945,950,955,960,965,970],"labelExpr":"datum.value % 10 == 0 ? datum.label : ''","tickSize":4,"labelFontSize":13,"labelPadding":6.6,"title":"Binding Energy(eV)","titlePadding":10.8}},
"y":{"field":"y","type":"quantitative","scale":{"domain":[0,320],"range":[329,9],"nice":false,"zero":false},"axis":{"values":[11,29.1,47.2,65.3,83.4,101.5,119.6,137.7,155.8,173.9,192,210.1,228.2,246.3,264.4,282.5,300.6],"labels":false,"tickSize":-3,"title":"Instensity(a.u.)","titlePadding":12.5,"titleY":175.5}},
"color":{"field":"g","type":"nominal","scale":{"domain":["r1","r2","r3","v1","v2","v3","p1","p2","p3","p4","e1","e2","e3","e4","bl"],"range":["#000000","#000000","#000000","#9a1515","#9a1515","#9a1515","#ff33ff","#1c1c8e","#2850ff","#a040ff","#7a0022","#7a0022","#7a0022","#7a0022","#7b1fa2"]},"legend":null}}},
{"transform":[{"filter":"substring(datum.g,0,1) == 'e' || datum.g == 'bl'"}],"mark":{"type":"line","strokeWidth":1.7},
"encoding":{
"x":{"field":"x","type":"quantitative","scale":{"domain":[920,970],"nice":false,"zero":false},"axis":null},
"y":{"field":"y","type":"quantitative","scale":{"domain":[0,320],"range":[329,9],"nice":false,"zero":false},"axis":null},
"color":{"field":"g","type":"nominal","scale":{"domain":["r1","r2","r3","v1","v2","v3","p1","p2","p3","p4","e1","e2","e3","e4","bl"],"range":["#000000","#000000","#000000","#9a1515","#9a1515","#9a1515","#ff33ff","#1c1c8e","#2850ff","#a040ff","#7a0022","#7a0022","#7a0022","#7a0022","#7b1fa2"]},"legend":null}}},
{"data":{"values":[{"x":921.37,"y":297,"t":"a"}]},"mark":{"type":"text","fontSize":17,"align":"center","baseline":"middle","color":"#111111","font":"Liberation Sans"},
"encoding":{
"x":{"field":"x","type":"quantitative","scale":{"domain":[920,970],"nice":false,"zero":false},"axis":{"orient":"top","offset":-9,"values":[925,930,935,940,945,950,955,960,965],"labels":false,"tickSize":-3,"title":null}},
"y":{"field":"y","type":"quantitative","scale":{"domain":[0,320],"range":[329,9],"nice":false,"zero":false},"axis":{"orient":"right","values":[11,29.1,47.2,65.3,83.4,101.5,119.6,137.7,155.8,173.9,192,210.1,228.2,246.3,264.4,282.5,300.6],"labels":false,"tickSize":-3,"title":null}},
"text":{"field":"t"}}}
]},
{"width":432,"height":330,"data":{"name":"b"},
"resolve":{"axis":{"x":"independent","y":"independent"}},
"layer":[
{"transform":[{"filter":"substring(datum.g,0,1) != 'e' && datum.g != 'bl'"}],"mark":{"type":"line","strokeWidth":1.1},
"encoding":{
"x":{"field":"x","type":"quantitative","scale":{"domain":[770,813.67],"nice":false,"zero":false},"axis":{"values":[770,775,780,785,790,795,800,805,810],"labelExpr":"datum.value % 10 == 0 ? datum.label : ''","tickSize":4,"labelFontSize":15.5,"labelPadding":3.2,"title":"Binding Energy(eV)","titlePadding":14}},
"y":{"field":"y","type":"quantitative","scale":{"domain":[0,330],"nice":false,"zero":false},"axis":{"values":[20.3,61.7,103.1,144.5,185.9,227.3,268.7,310.1],"labels":false,"tickSize":-3,"title":"Instensity(a.u.)","titlePadding":12.9,"titleY":171.3}},
"color":{"field":"g","type":"nominal","scale":{"domain":["r1","v","p1","p2","p3","p4","e1","e2","bl"],"range":["#000000","#9a3cf5","#1e3cff","#1a8a1a","#ff2020","#ff33ff","#6d1ee8","#6d1ee8","#2a2a90"]},"legend":null}}},
{"transform":[{"filter":"substring(datum.g,0,1) == 'e' || datum.g == 'bl'"}],"mark":{"type":"line","strokeWidth":1.6},
"encoding":{
"x":{"field":"x","type":"quantitative","scale":{"domain":[770,813.67],"nice":false,"zero":false},"axis":null},
"y":{"field":"y","type":"quantitative","scale":{"domain":[0,330],"nice":false,"zero":false},"axis":null},
"color":{"field":"g","type":"nominal","scale":{"domain":["r1","v","p1","p2","p3","p4","e1","e2","bl"],"range":["#000000","#9a3cf5","#1e3cff","#1a8a1a","#ff2020","#ff33ff","#6d1ee8","#6d1ee8","#2a2a90"]},"legend":null}}},
{"data":{"values":[{"x":771.74,"y":306,"t":"b"}]},"mark":{"type":"text","fontSize":17,"align":"center","baseline":"middle","color":"#111111","font":"Liberation Sans"},
"encoding":{
"x":{"field":"x","type":"quantitative","scale":{"domain":[770,813.67],"nice":false,"zero":false},"axis":{"orient":"top","values":[775,780,785,790,795,800,805,810],"labels":false,"tickSize":-3,"title":null}},
"y":{"field":"y","type":"quantitative","scale":{"domain":[0,330],"nice":false,"zero":false},"axis":null},
"text":{"field":"t"}}}
]}
]},
{"spacing":47.7,"resolve":{"scale":{"color":"independent"}},"hconcat":[
{"width":444.3,"height":325,"data":{"name":"c"},
"resolve":{"axis":{"x":"independent","y":"independent"}},
"layer":[
{"transform":[{"filter":"substring(datum.g,0,1) != 'e' && datum.g != 'bl'"}],"mark":{"type":"line","strokeWidth":1.1},
"encoding":{
"x":{"field":"x","type":"quantitative","scale":{"domain":[700,745.05],"range":[4.3,444.3],"nice":false,"zero":false},"axis":{"values":[700,705,710,715,720,725,730,735,740,745],"labelExpr":"datum.value % 10 == 0 ? datum.label : ''","tickSize":4,"labelFontSize":14,"labelPadding":7.3,"title":"Binding Energy(eV)","titlePadding":10.4}},
"y":{"field":"y","type":"quantitative","scale":{"domain":[0,325.3],"nice":false,"zero":false},"axis":{"offset":-4.3,"values":[18,36.2,54.4,72.6,90.8,109,127.2,145.4,163.6,181.8,200,218.2,236.4,254.6,272.8,291,309.2],"labels":false,"tickSize":-3,"title":"Instensity(a.u.)","titlePadding":13.8,"titleY":169.8}},
"color":{"field":"g","type":"nominal","scale":{"domain":["r1","v","p1","p2","p3","p4","p5","e1","e2","bl"],"range":["#000000","#8e3a9e","#ff33ff","#ff2020","#1a8a1a","#1e3cff","#1c1c7c","#7a1a96","#7a1a96","#7b30d0"]},"legend":null}}},
{"transform":[{"filter":"substring(datum.g,0,1) == 'e' || datum.g == 'bl'"}],"mark":{"type":"line","strokeWidth":1.7},
"encoding":{
"x":{"field":"x","type":"quantitative","scale":{"domain":[700,745.05],"range":[4.3,444.3],"nice":false,"zero":false},"axis":null},
"y":{"field":"y","type":"quantitative","scale":{"domain":[0,325.3],"nice":false,"zero":false},"axis":null},
"color":{"field":"g","type":"nominal","scale":{"domain":["r1","v","p1","p2","p3","p4","p5","e1","e2","bl"],"range":["#000000","#8e3a9e","#ff33ff","#ff2020","#1a8a1a","#1e3cff","#1c1c7c","#7a1a96","#7a1a96","#7b30d0"]},"legend":null}}},
{"data":{"values":[{"x":702.2,"y":285,"t":"c"}]},"mark":{"type":"text","fontSize":17,"align":"center","baseline":"middle","color":"#111111","font":"Liberation Sans"},
"encoding":{
"x":{"field":"x","type":"quantitative","scale":{"domain":[700,745.05],"range":[4.3,444.3],"nice":false,"zero":false},"axis":{"orient":"top","values":[705,710,715,720,725,730,735,740],"labels":false,"tickSize":-3,"title":null}},
"y":{"field":"y","type":"quantitative","scale":{"domain":[0,325.3],"nice":false,"zero":false},"axis":{"orient":"right","values":[18,36.2,54.4,72.6,90.8,109,127.2,145.4,163.6,181.8,200,218.2,236.4,254.6,272.8,291,309.2],"labels":false,"tickSize":-3,"title":null}},
"text":{"field":"t"}}}
]},
{"width":425,"height":326.7,"data":{"name":"d"},
"resolve":{"axis":{"x":"independent","y":"independent"}},
"layer":[
{"transform":[{"filter":"substring(datum.g,0,1) != 'e' && datum.g != 'bl'"}],"mark":{"type":"line","strokeWidth":1.1},
"encoding":{
"x":{"field":"x","type":"quantitative","scale":{"domain":[522.61,546.81],"nice":false,"zero":false},"axis":{"values":[525,530,535,540,545],"labelExpr":"datum.value % 10 == 0 ? datum.label : ''","tickSize":4,"labelFontSize":13.7,"labelPadding":6.9,"title":"Binding Energy(eV)","titlePadding":9.7}},
"y":{"field":"y","type":"quantitative","scale":{"domain":[0,319.4],"range":[326.7,7.3],"nice":false,"zero":false},"axis":{"values":[8,17.7,27.4,37.1,46.8,56.5,66.2,75.9,85.6,95.3,105,114.7,124.4,134.1,143.8,153.5,163.2,172.9,182.6,192.3,202,211.7,221.4,231.1,240.8,250.5,260.2,269.9,279.6,289.3,299,308.7],"labels":false,"tickSize":-3,"title":"Instensity(a.u.)","titlePadding":12.5,"titleY":174}},
"color":{"field":"g","type":"nominal","scale":{"domain":["r1","v","p1","p2","p3","p4","e1"],"range":["#000000","#101070","#ff33ff","#ff2020","#1e3cff","#2a8a2a","#141466"]},"legend":null}}},
{"transform":[{"filter":"substring(datum.g,0,1) == 'e' || datum.g == 'bl'"}],"mark":{"type":"line","strokeWidth":1.5},
"encoding":{
"x":{"field":"x","type":"quantitative","scale":{"domain":[522.61,546.81],"nice":false,"zero":false},"axis":null},
"y":{"field":"y","type":"quantitative","scale":{"domain":[0,319.4],"range":[326.7,7.3],"nice":false,"zero":false},"axis":null},
"color":{"field":"g","type":"nominal","scale":{"domain":["r1","v","p1","p2","p3","p4","e1"],"range":["#000000","#101070","#ff33ff","#ff2020","#1e3cff","#2a8a2a","#141466"]},"legend":null}}},
{"data":{"values":[{"x":523.75,"y":291.9,"t":"d"}]},"mark":{"type":"text","fontSize":17,"align":"center","baseline":"middle","color":"#111111","font":"Liberation Sans"},
"encoding":{
"x":{"field":"x","type":"quantitative","scale":{"domain":[522.61,546.81],"nice":false,"zero":false},"axis":{"orient":"top","offset":-7.3,"values":[525,530,535,540,545],"labels":false,"tickSize":-3,"title":null}},
"y":{"field":"y","type":"quantitative","scale":{"domain":[0,319.4],"range":[326.7,7.3],"nice":false,"zero":false},"axis":null},
"text":{"field":"t"}}}
]}
]}
]
}
